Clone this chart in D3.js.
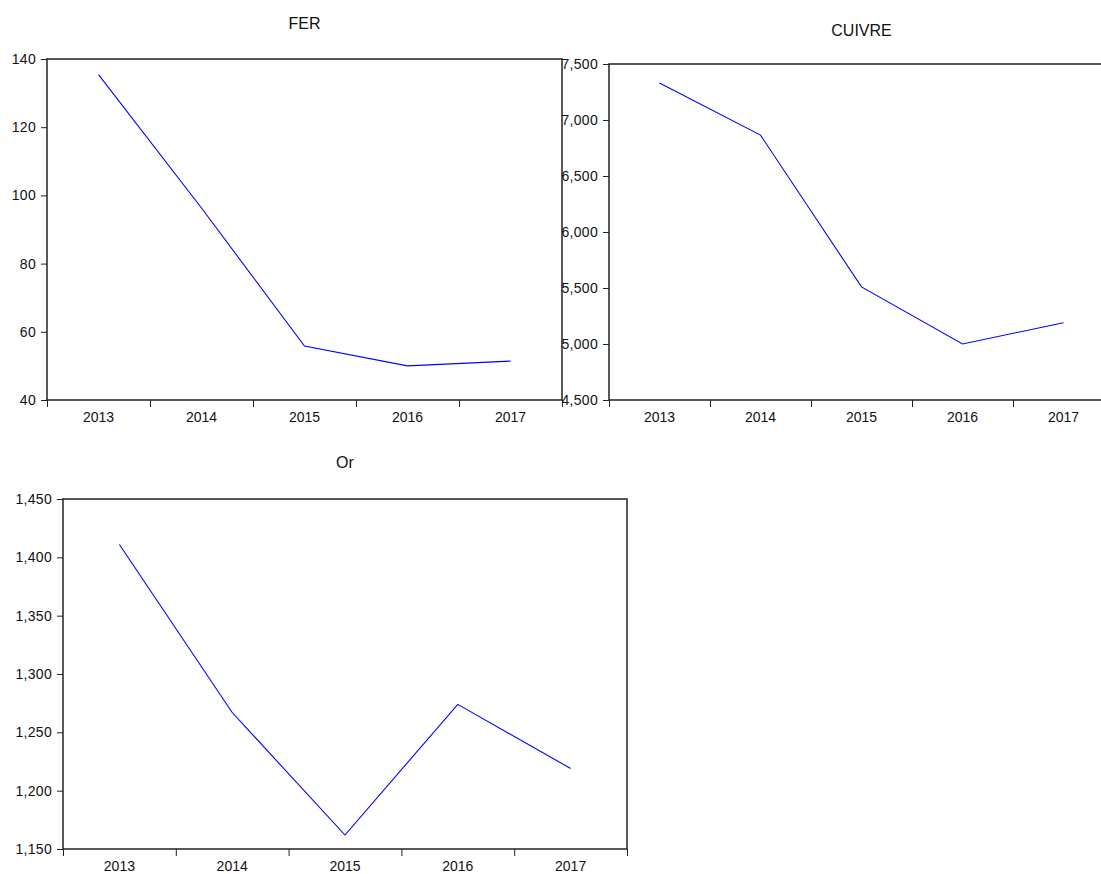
<!DOCTYPE html>
<html>
<head>
<meta charset="utf-8">
<script src="https://d3js.org/d3.v7.min.js"></script>
<style>
  html, body { margin: 0; padding: 0; background: #fff; }
  svg { display: block; }
  text { font-family: "Liberation Sans", Arial, sans-serif; fill: #111; }
</style>
</head>
<body>
<svg id="chart" width="1101" height="874"></svg>
<script>
// ---- data ----
const years = ["2013", "2014", "2015", "2016", "2017"];
const ferValues = [135.4, 96.3, 55.8, 50.0, 51.4];
const cuivreValues = [7330, 6865, 5510, 5000, 5190];
const orValues = [1411, 1267, 1162, 1274, 1219];
const ferTicks = [40, 60, 80, 100, 120, 140];
const cuivreTicks = [4500, 5000, 5500, 6000, 6500, 7000, 7500];
const orTicks = [1150, 1200, 1250, 1300, 1350, 1400, 1450];
const titles = ["FER", "CUIVRE", "Or"];

// ---- layout ----
const svg = d3.select("#chart");
const panels = [
  { title: titles[0], values: ferValues, ticks: ferTicks, x0: 47, x1: 562, y0: 59, y1: 400, titleY: 29, fmt: d3.format("d") },
  { title: titles[1], values: cuivreValues, ticks: cuivreTicks, x0: 609, x1: 1114, y0: 64, y1: 400, titleY: 36, fmt: d3.format(",") },
  { title: titles[2], values: orValues, ticks: orTicks, x0: 63, x1: 627, y0: 499, y1: 849, titleY: 468, fmt: d3.format(",") }
];

panels.forEach(p => {
  const g = svg.append("g");
  const x = d3.scaleBand().domain(years).range([p.x0, p.x1]).paddingInner(0).paddingOuter(0);
  const xb = d3.scaleLinear().domain([0, years.length]).range([p.x0, p.x1]);
  const y = d3.scaleLinear().domain([p.ticks[0], p.ticks[p.ticks.length - 1]]).range([p.y1, p.y0]);

  // y axis
  const ya = g.append("g").attr("transform", `translate(${p.x0},0)`)
    .call(d3.axisLeft(y).tickValues(p.ticks).tickSize(6).tickPadding(5).tickFormat(p.fmt));
  ya.select(".domain").remove();
  ya.attr("font-family", null).attr("font-size", null);
  ya.selectAll("line").attr("stroke", "#222");
  ya.selectAll("text").style("font-size", "14px").style("letter-spacing", "0.3px").attr("fill", "#111");

  // x boundary ticks
  const xt = g.append("g").attr("transform", `translate(0,${p.y1})`)
    .call(d3.axisBottom(xb).tickValues(d3.range(years.length + 1)).tickSize(7).tickFormat(""));
  xt.select(".domain").remove();
  xt.selectAll("line").attr("stroke", "#222");

  // x labels at centres
  const xl = g.append("g").attr("transform", `translate(0,${p.y1})`)
    .call(d3.axisBottom(x).tickSize(0).tickPadding(12));
  xl.select(".domain").remove();
  xl.attr("font-family", null).attr("font-size", null);
  xl.selectAll("text").style("font-size", "14px").attr("fill", "#111");

  // frame
  g.append("rect")
    .attr("x", p.x0).attr("y", p.y0)
    .attr("width", p.x1 - p.x0).attr("height", p.y1 - p.y0)
    .attr("fill", "none").attr("stroke", "#222").attr("stroke-width", 1.5);

  // line
  const line = d3.line()
    .x((d, i) => x(years[i]) + x.bandwidth() / 2)
    .y(d => y(d));
  g.append("path").datum(p.values)
    .attr("d", line)
    .attr("fill", "none").attr("stroke", "#0000ff").attr("stroke-width", 1.1);

  // title
  g.append("text")
    .attr("x", (p.x0 + p.x1) / 2).attr("y", p.titleY)
    .attr("text-anchor", "middle")
    .style("font-size", "16px")
    .text(p.title);
});
</script>
</body>
</html>
